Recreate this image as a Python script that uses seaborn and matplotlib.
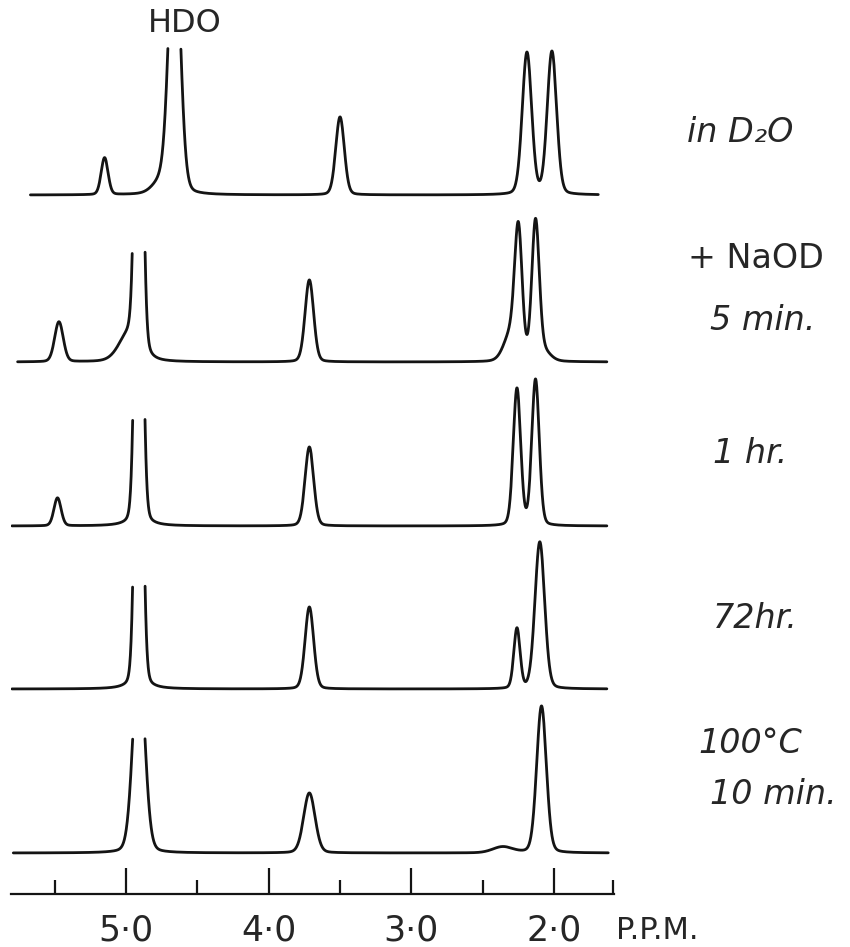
import numpy as np
import pandas as pd
import matplotlib
matplotlib.use("Agg")
import matplotlib.pyplot as plt
import seaborn as sns

# one trace per condition, top to bottom
trace_labels = ["in D₂O", "+ NaOD\n5 min.", "1 hr.", "72hr.", "100°C\n10 min."]

# peak tables: shift (ppm), height (chart px), width (sigma, ppm)
d2o_shift = [5.15, 4.75, 4.66, 3.50, 2.19, 2.015]
d2o_height = [37, 12, 280, 78, 142, 143]
d2o_width = [0.024, 0.06, 0.039, 0.030, 0.033, 0.033]

naod5_shift = [5.47, 4.98, 4.91, 3.715, 2.30, 2.25, 2.13, 2.08]
naod5_height = [40, 25, 500, 82, 28, 122, 136, 10]
naod5_width = [0.030, 0.070, 0.024, 0.030, 0.05, 0.026, 0.026, 0.05]

hr1_shift = [5.48, 4.91, 3.715, 2.26, 2.13]
hr1_height = [28, 500, 79, 137, 146]
hr1_width = [0.025, 0.024, 0.030, 0.026, 0.026]

hr72_shift = [4.91, 3.715, 2.26, 2.10]
hr72_height = [500, 82, 60, 147]
hr72_width = [0.024, 0.030, 0.022, 0.034]

c100_shift = [4.91, 3.715, 2.36, 2.088]
c100_height = [200, 60, 6, 147]
c100_width = [0.041, 0.040, 0.07, 0.034]

# HDO runs off the recorder: where it sits and the height where the pen stops
hdo_shift = [4.66, 4.91, 4.91, 4.91, 4.91]
hdo_clip = [147, 110, 108, 105, 115]

# sweep range of each trace
sweep_start = [5.67, 5.76, 5.80, 5.80, 5.79]
sweep_end = [1.69, 1.63, 1.63, 1.63, 1.62]

peak_tables = [
    (d2o_shift, d2o_height, d2o_width),
    (naod5_shift, naod5_height, naod5_width),
    (hr1_shift, hr1_height, hr1_width),
    (hr72_shift, hr72_height, hr72_width),
    (c100_shift, c100_height, c100_width),
]

# vertical stacking (baseline height above the scale, chart px)
offsets = [699, 532, 368, 205, 41]


def line_shape(x, center, sigma, eta=0.15):
    g = np.exp(-(x - center) ** 2 / (2 * sigma ** 2))
    hw = 1.1774 * sigma
    l = 1.0 / (1.0 + ((x - center) / hw) ** 2)
    return (1 - eta) * g + eta * l


grid = np.linspace(1.55, 5.85, 8000)
frames = []
for i, (shifts, heights, widths) in enumerate(peak_tables):
    x = grid[(grid >= sweep_end[i]) & (grid <= sweep_start[i])]
    y = np.zeros_like(x)
    for c, h, s in zip(shifts, heights, widths):
        y += h * line_shape(x, c, s)
    off_scale = (np.abs(x - hdo_shift[i]) < 0.1) & (y > hdo_clip[i])
    y[off_scale] = np.nan
    seg = np.cumsum(np.isnan(y))
    keep = ~np.isnan(y)
    frames.append(pd.DataFrame({
        "ppm": x[keep],
        "y": y[keep] + offsets[i],
        "seg": [f"{i}-{k}" for k in seg[keep]],
    }))
spectra = pd.concat(frames, ignore_index=True)

sns.set_style("white")
plt.rcParams["font.family"] = ["DejaVu Sans"]

fig = plt.figure(figsize=(8.5, 9.47), dpi=100)
ax = fig.add_axes([11 / 850, 53 / 947, 603 / 850, 894 / 947])

sns.lineplot(data=spectra, x="ppm", y="y", units="seg", estimator=None,
             sort=False, color="#141414", lw=2.0, ax=ax, legend=False)

ax.set_xlim(5.806, 1.580)
ax.set_ylim(0, 894)
ax.set_xlabel("")
ax.set_ylabel("")
ax.set_yticks([])
sns.despine(ax=ax, left=True)
ax.spines["bottom"].set_linewidth(1.6)
ax.spines["bottom"].set_color("#141414")

ax.set_xticks([5, 4, 3, 2])
ax.set_xticklabels(["5·0", "4·0", "3·0", "2·0"])
ax.set_xticks([5.5, 4.5, 3.5, 2.5, 1.59], minor=True)
ax.tick_params(axis="x", which="both", bottom=True)
ax.tick_params(axis="x", which="major", direction="in", length=19, width=1.6,
               pad=14, labelsize=25, color="#141414")
ax.tick_params(axis="x", which="minor", direction="in", length=10, width=1.6,
               color="#141414")

fig.text(616 / 850, 1 - 930 / 947, "P.P.M.", fontsize=22,
         va="center", ha="left")
fig.text(148 / 850, 1 - 24 / 947, "HDO", fontsize=23, va="center", ha="left")

# right-hand condition labels
fig.text(687 / 850, 1 - 133 / 947, "in D₂O", fontsize=24, fontstyle="italic",
         va="center", ha="left")
fig.text(688 / 850, 1 - 258 / 947, "+ NaOD", fontsize=24, va="center", ha="left")
fig.text(710 / 850, 1 - 320 / 947, "5 min.", fontsize=24, fontstyle="italic",
         va="center", ha="left")
fig.text(713 / 850, 1 - 453 / 947, "1 hr.", fontsize=24, fontstyle="italic",
         va="center", ha="left")
fig.text(713 / 850, 1 - 618 / 947, "72hr.", fontsize=24, fontstyle="italic",
         va="center", ha="left")
fig.text(698 / 850, 1 - 743 / 947, "100°C", fontsize=24, fontstyle="italic",
         va="center", ha="left")
fig.text(710 / 850, 1 - 795 / 947, "10 min.", fontsize=24, fontstyle="italic",
         va="center", ha="left")

fig.savefig("out.png", dpi=100)
